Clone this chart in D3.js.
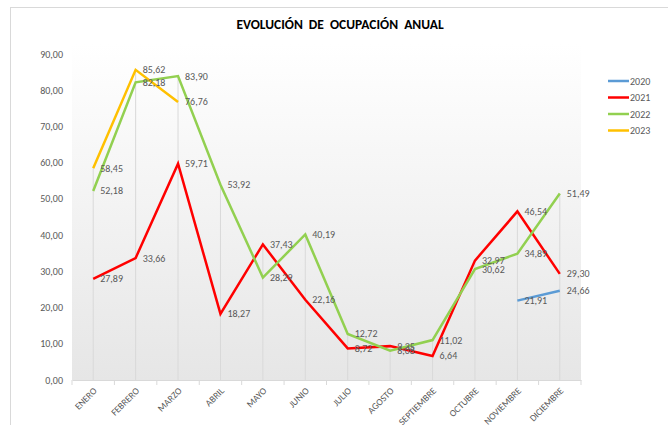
<!DOCTYPE html>
<html>
  <head>
    <title>Evolución de ocupación anual</title>
    <script src="https://d3js.org/d3.v7.min.js"></script>
    <style>
      body { margin: 0; background: #fff; }
      text { font-family: Carlito, Calibri, "Open Sans", sans-serif; }
    </style>
  </head>
  <body>
    <div id="chart"></div>
    <script>
      var months = ['ENERO', 'FEBRERO', 'MARZO', 'ABRIL', 'MAYO', 'JUNIO', 'JULIO',
        'AGOSTO', 'SEPTIEMBRE', 'OCTUBRE', 'NOVIEMBRE', 'DICIEMBRE'];
      var years = ['2020', '2021', '2022', '2023'];
      var v2020 = [null, null, null, null, null, null, null, null, null, null, 21.91, 24.66];
      var v2021 = [27.89, 33.66, 59.71, 18.27, 37.43, 22.16, 8.72, 9.35, 6.64, 32.97, 46.54, 29.30];
      var v2022 = [52.18, 82.18, 83.90, 53.92, 28.29, 40.19, 12.72, 8.08, 11.02, 30.62, 34.89, 51.49];
      var v2023 = [58.45, 85.62, 76.76, null, null, null, null, null, null, null, null, null];
      var yTicks = [0, 10, 20, 30, 40, 50, 60, 70, 80, 90];
      var colors = ['#5b9bd5', '#ff0000', '#92d050', '#ffc000'];

      var series = [v2020, v2021, v2022, v2023].map(function (vals, i) {
        return { name: years[i], color: colors[i], values: vals };
      });

      var svg = d3.select('#chart').append('svg')
        .attr('width', 668).attr('height', 425);

      // chart frame
      svg.append('rect')
        .attr('x', 10.5).attr('y', 7.5).attr('width', 660).attr('height', 420)
        .attr('fill', '#fff').attr('stroke', '#d9d9d9');

      var plotL = 72, plotR = 581, plotT = 54, plotB = 380;

      var x = d3.scaleBand().domain(months).range([plotL, plotR]);
      var y = d3.scaleLinear().domain([0, 90]).range([plotB, plotT]);
      var fmt = function (v) { return d3.format('.2f')(v).replace('.', ','); };

      // plot area gradient
      var grad = svg.append('defs').append('linearGradient')
        .attr('id', 'bg').attr('x1', 0).attr('y1', 0).attr('x2', 0).attr('y2', 1);
      grad.append('stop').attr('offset', '0%').attr('stop-color', '#ffffff');
      grad.append('stop').attr('offset', '100%').attr('stop-color', '#e6e6e6');
      svg.append('rect')
        .attr('x', plotL).attr('y', plotT - 10)
        .attr('width', plotR - plotL).attr('height', plotB - plotT + 10)
        .attr('fill', 'url(#bg)');

      svg.append('text')
        .attr('x', 340).attr('y', 29)
        .attr('text-anchor', 'middle')
        .attr('font-size', 13.5).attr('font-weight', 'bold').attr('fill', '#000')
        .style('word-spacing', '3px')
        .text('EVOLUCIÓN DE OCUPACIÓN ANUAL');

      // y axis labels
      svg.append('g').selectAll('text').data(yTicks).enter().append('text')
        .attr('x', 63).attr('y', function (d) { return y(d); })
        .attr('dy', '0.35em').attr('text-anchor', 'end')
        .attr('font-size', 10).attr('fill', '#595959')
        .text(fmt);

      // x axis
      var xAxis = svg.append('g')
        .attr('transform', 'translate(0,' + plotB + ')')
        .call(d3.axisBottom(x).tickSize(0).tickFormat(''));
      xAxis.select('.domain').attr('stroke', '#d9d9d9');
      var bounds = d3.range(months.length + 1).map(function (i) { return plotL + i * x.bandwidth(); });
      svg.append('g').selectAll('line').data(bounds).enter().append('line')
        .attr('x1', function (d) { return d; }).attr('x2', function (d) { return d; })
        .attr('y1', plotB).attr('y2', plotB + 5)
        .attr('stroke', '#d9d9d9');

      svg.append('g').selectAll('text').data(months).enter().append('text')
        .attr('transform', function (d) {
          return 'translate(' + (x(d) + x.bandwidth() / 2 + 2) + ',' + (plotB + 9) + ') rotate(-45)';
        })
        .attr('text-anchor', 'end').attr('dy', '0.35em')
        .attr('font-size', 9.5).attr('fill', '#595959')
        .text(function (d) { return d; });

      // drop lines
      var maxes = months.map(function (m, i) {
        return d3.max(series, function (s) { return s.values[i]; });
      });
      svg.append('g').selectAll('line').data(maxes).enter().append('line')
        .attr('x1', function (d, i) { return x(months[i]) + x.bandwidth() / 2; })
        .attr('x2', function (d, i) { return x(months[i]) + x.bandwidth() / 2; })
        .attr('y1', function (d) { return y(d); }).attr('y2', plotB)
        .attr('stroke', '#d9d9d9').attr('stroke-width', 1);

      var line = d3.line()
        .defined(function (d) { return d != null; })
        .x(function (d, i) { return x(months[i]) + x.bandwidth() / 2; })
        .y(function (d) { return y(d); });

      series.forEach(function (s) {
        svg.append('path')
          .attr('d', line(s.values))
          .attr('fill', 'none').attr('stroke', s.color).attr('stroke-width', 2.5)
          .attr('stroke-linejoin', 'miter');
      });

      // data labels
      series.forEach(function (s) {
        svg.append('g').selectAll('text')
          .data(s.values.map(function (v, i) { return { v: v, m: months[i] }; })
            .filter(function (d) { return d.v != null; }))
          .enter().append('text')
          .attr('x', function (d) { return x(d.m) + x.bandwidth() / 2 + 7; })
          .attr('y', function (d) { return y(d.v); })
          .attr('dy', '0.35em')
          .attr('font-size', 10).attr('fill', '#595959')
          .text(function (d) { return fmt(d.v); });
      });

      // legend
      var legend = svg.append('g').selectAll('g').data(series).enter().append('g')
        .attr('transform', function (d, i) { return 'translate(608,' + (81 + i * 16.5) + ')'; });
      legend.append('line')
        .attr('x1', 0).attr('x2', 21).attr('y1', 0).attr('y2', 0)
        .attr('stroke', function (d) { return d.color; }).attr('stroke-width', 2.5);
      legend.append('text')
        .attr('x', 22).attr('dy', '0.35em')
        .attr('font-size', 10).attr('fill', '#595959')
        .text(function (d) { return d.name; });
    </script>
  </body>
</html>
